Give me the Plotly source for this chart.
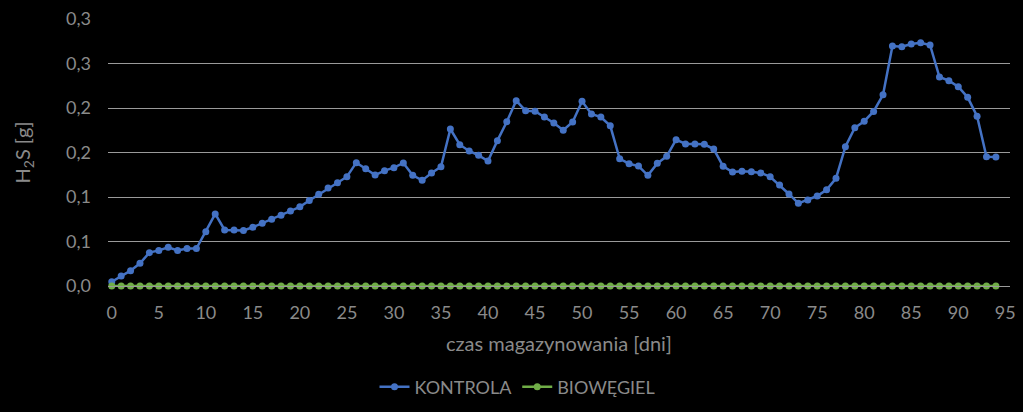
import plotly.graph_objects as go

days = list(range(0, 95))
kontrola = [
    0.0048, 0.0112, 0.0172, 0.0255, 0.0375, 0.040, 0.0435, 0.040, 0.042, 0.042,
    0.061, 0.081, 0.063, 0.063, 0.0625, 0.066, 0.0705, 0.075, 0.0795, 0.0843,
    0.089, 0.096, 0.103, 0.110, 0.116, 0.1228, 0.1386, 0.1318, 0.1247, 0.1296,
    0.1330, 0.1382, 0.1244, 0.1187, 0.127, 0.134, 0.1764, 0.1588, 0.1517, 0.1468,
    0.1404, 0.1633, 0.1846, 0.2082, 0.197, 0.1963, 0.1899, 0.1832, 0.175, 0.1843,
    0.2075, 0.1933, 0.1899, 0.180, 0.1430, 0.1374, 0.1348, 0.1244, 0.1378, 0.1457,
    0.1644, 0.1596, 0.1596, 0.1592, 0.1539, 0.1345, 0.128, 0.1288, 0.1284, 0.127,
    0.1228, 0.1135, 0.1034, 0.0929, 0.0966, 0.1011, 0.1082, 0.121, 0.1565, 0.1778,
    0.1852, 0.1961, 0.2148, 0.2697, 0.2689, 0.2719, 0.2734, 0.2708, 0.2348, 0.2307,
    0.2239, 0.212, 0.1907, 0.1453, 0.1450,
]
bioweg = [0.0] * 95

y_tickvals = [0.0, 0.05, 0.10, 0.15, 0.20, 0.25, 0.30]
y_ticktext = ["0,0", "0,1", "0,1", "0,2", "0,2", "0,3", "0,3"]
x_tickvals = list(range(0, 96, 5))

FONT = "Lato, Calibri, sans-serif"
TXT = "#8a8a8a"
GRID = "#9a9a9a"
FS = 18
FT = 20

fig = go.Figure()
fig.add_trace(go.Scatter(
    x=days, y=kontrola, name="KONTROLA", mode="lines+markers",
    line=dict(color="#4472C4", width=2.5),
    marker=dict(color="#4472C4", size=7),
    cliponaxis=False,
))
fig.add_trace(go.Scatter(
    x=days, y=bioweg, name="BIOWĘGIEL", mode="lines+markers",
    line=dict(color="#70AD47", width=2.5),
    marker=dict(color="#70AD47", size=7),
    cliponaxis=False,
))

fig.update_layout(
    width=1023, height=412,
    paper_bgcolor="black", plot_bgcolor="black",
    margin=dict(l=108, r=13, t=19, b=126, autoexpand=False),
    font=dict(family=FONT, size=FS, color=TXT),
    showlegend=True,
    legend=dict(
        orientation="h", xref="container", x=517.5 / 1023, xanchor="center",
        yref="container", y=1 - 387 / 412, yanchor="middle",
        font=dict(family=FONT, size=FS, color=TXT),
        bgcolor="rgba(0,0,0,0)", itemwidth=30, traceorder="normal",
    ),
    xaxis=dict(
        range=[-0.4, 95.5], tickvals=x_tickvals, automargin=False,
        showgrid=False, zeroline=False,
        showline=True, linecolor=GRID, linewidth=1,
        ticks="", ticklabelstandoff=10, tickfont=dict(size=FS, color=TXT),
        title=dict(text="czas magazynowania [dni]", font=dict(size=FT, color=TXT), standoff=15),
    ),
    yaxis=dict(
        range=[0, 0.3], tickvals=y_tickvals, ticktext=y_ticktext, automargin=False,
        showgrid=True, gridcolor=GRID, gridwidth=1, zeroline=False,
        showline=False, ticks="", ticklabelstandoff=16, tickfont=dict(size=FS, color=TXT),
        title=dict(text="H<sub>2</sub>S [g]", font=dict(size=FT, color=TXT), standoff=30),
    ),
)

fig.write_html("out.html")
